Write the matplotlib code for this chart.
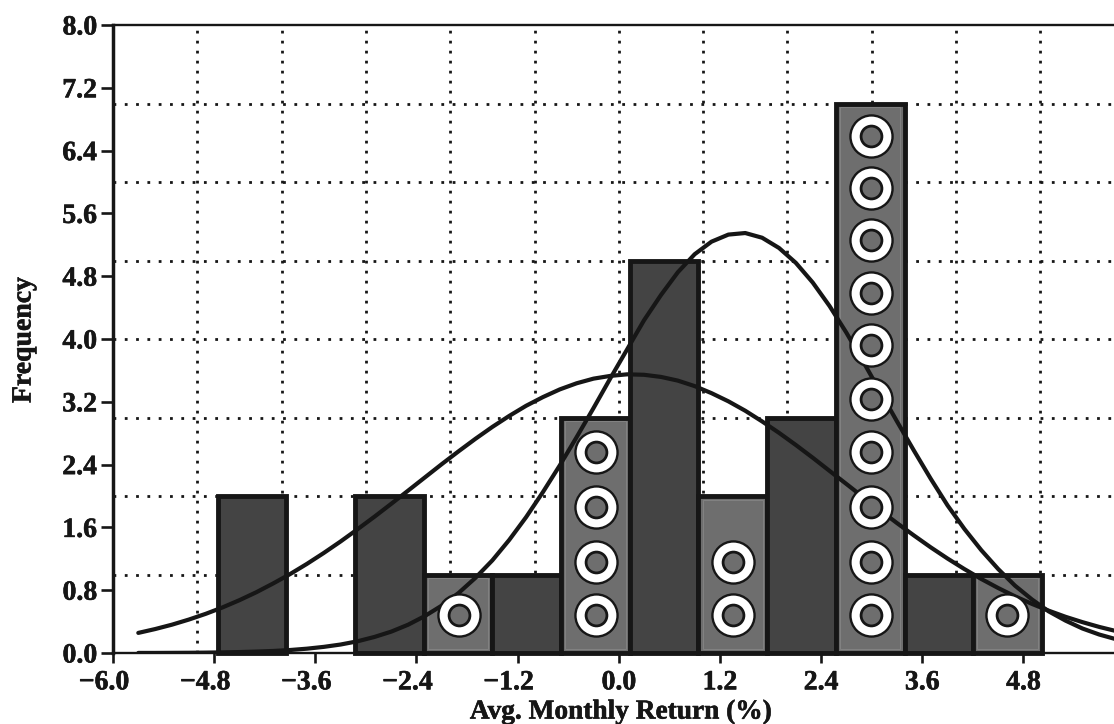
import matplotlib
matplotlib.use("Agg")
import matplotlib.pyplot as plt
import matplotlib.patheffects as pe
from matplotlib.transforms import ScaledTranslation

bin_edges = [-4.76, -3.945, -3.13, -2.315, -1.5, -0.685, 0.13, 0.945, 1.76, 2.575, 3.39, 4.205, 5.02]
counts = [2, 0, 2, 1, 1, 3, 5, 2, 3, 7, 1, 1]
highlighted = [False, False, False, True, False, True, False, True, False, True, False, True]

curve_x = [-5.7, -5.5, -5.3, -5.1, -4.9, -4.7, -4.5, -4.3, -4.1, -3.9, -3.7, -3.5, -3.3, -3.1, -2.9, -2.7,
           -2.5, -2.3, -2.1, -1.9, -1.7, -1.5, -1.3, -1.1, -0.9, -0.7, -0.5, -0.3, -0.1, 0.1,
           0.3, 0.5, 0.7, 0.9, 1.1, 1.3, 1.5, 1.7, 1.9, 2.1, 2.3, 2.5, 2.7, 2.9, 3.1, 3.3,
           3.5, 3.7, 3.9, 4.1, 4.3, 4.5, 4.7, 4.9, 5.1, 5.3, 5.5, 5.7, 5.9]
wide_curve = [0.256, 0.305, 0.361, 0.426, 0.499, 0.581, 0.673, 0.774, 0.886, 1.005, 1.135, 1.274, 1.421, 1.576, 1.735, 1.90,
              2.068, 2.237, 2.406, 2.57, 2.729, 2.88, 3.02, 3.149, 3.26, 3.358, 3.436, 3.495, 3.53, 3.55,
              3.544, 3.517, 3.47, 3.40, 3.31, 3.206, 3.086, 2.95, 2.805, 2.65, 2.488, 2.32, 2.153, 1.984, 1.818, 1.655,
              1.498, 1.346, 1.203, 1.069, 0.943, 0.828, 0.722, 0.626, 0.539, 0.461, 0.393, 0.332, 0.279]
tall_curve = [0.001, 0.001, 0.002, 0.003, 0.005, 0.008, 0.012, 0.018, 0.026, 0.038, 0.055, 0.078, 0.108, 0.149, 0.204, 0.272,
              0.36, 0.471, 0.604, 0.765, 0.958, 1.18, 1.44, 1.73, 2.05, 2.39, 2.75, 3.12, 3.50, 3.87,
              4.24, 4.56, 4.85, 5.08, 5.24, 5.33, 5.35, 5.29, 5.16, 4.97, 4.72, 4.42, 4.08, 3.71, 3.33, 2.95,
              2.58, 2.22, 1.88, 1.58, 1.31, 1.07, 0.858, 0.683, 0.53, 0.412, 0.312, 0.235, 0.175]

marker_x = [-1.9,
            -0.27, -0.27, -0.27, -0.27,
            1.36, 1.36,
            2.99, 2.99, 2.99, 2.99, 2.99, 2.99, 2.99, 2.99, 2.99, 2.99,
            4.61]
marker_y = [0.48,
            0.48, 1.16, 1.86, 2.56,
            0.48, 1.16,
            0.48, 1.16, 1.86, 2.56, 3.24, 3.92, 4.59, 5.26, 5.92, 6.59,
            0.48]

x_ticks = [-6.0, -4.8, -3.6, -2.4, -1.2, 0.0, 1.2, 2.4, 3.6, 4.8]
y_ticks = [0.0, 0.8, 1.6, 2.4, 3.2, 4.0, 4.8, 5.6, 6.4, 7.2, 8.0]
grid_x = [-5, -4, -3, -2, -1, 0, 1, 2, 3, 4, 5]
grid_y = [1, 2, 3, 4, 5, 6, 7]
x_label = "Avg. Monthly Return (%)"
y_label = "Frequency"

DARK = "#444444"
LIGHT = "#6e6e6e"
INK = "#161616"
W, H = 1114, 724

plt.rcParams["font.family"] = "Liberation Serif"
plt.rcParams["font.weight"] = "bold"

fig = plt.figure(figsize=(W / 100, H / 100), dpi=100, facecolor="white")
ax = fig.add_axes([113 / W, 1 - 653 / H, 1 - 113 / W, (653 - 25) / H])
ax.set_xlim(-6.0, (W - 113) / 84.3 - 6.0)
ax.set_ylim(0, 8)

ax.vlines(grid_x, 0, 8, colors=INK, linewidth=2.0, linestyles=[(0, (1, 2.6))], zorder=1)
ax.hlines(grid_y, -6, 6, colors=INK, linewidth=2.0, linestyles=[(0, (1, 3.07))], zorder=1)

for i, c in enumerate(counts):
    if c == 0:
        continue
    left, right = bin_edges[i], bin_edges[i + 1]
    col = LIGHT if highlighted[i] else DARK
    ax.bar(left, c, width=right - left, align="edge", color=col, edgecolor=INK,
           linewidth=3.5, zorder=2, clip_on=False)
    if highlighted[i]:
        ax.bar(left + 0.05, c - 0.1, bottom=0.05, width=right - left - 0.1, align="edge",
               color="none", edgecolor="#858585", linewidth=0.6, zorder=2.1)

ax.plot(curve_x, wide_curve, color=INK, linewidth=3.0, zorder=3, solid_capstyle="round")
ax.plot(curve_x, tall_curve, color=INK, linewidth=3.0, zorder=3, solid_capstyle="round")

ax.scatter(marker_x, marker_y, s=920, facecolor="white", edgecolor=INK, linewidth=1.7, zorder=4)
ax.scatter(marker_x, marker_y, s=225, facecolor=LIGHT, edgecolor=INK, linewidth=2.0, zorder=5)

ax.spines["right"].set_visible(False)
ax.spines["left"].set_linewidth(2.5)
ax.spines["top"].set_linewidth(1.7)
ax.spines["bottom"].set_linewidth(1.7)
for s in ax.spines.values():
    s.set_color(INK)
    s.set_zorder(6)

ax.set_xticks(x_ticks)
ax.set_xticklabels([f"{v:.1f}".replace("-", "\u2212") for v in x_ticks])
ax.set_yticks(y_ticks)
ax.set_yticklabels([f"{v:.1f}" for v in y_ticks])
ax.tick_params(axis="x", length=7.5, width=1.9, color=INK, labelcolor=INK, labelsize=20, pad=5)
ax.tick_params(axis="y", length=8.5, width=1.9, color=INK, labelcolor=INK, labelsize=20, pad=3)

stroke = [pe.withStroke(linewidth=0.4, foreground=INK)]
shift = ScaledTranslation(-9 / 100, 0, fig.dpi_scale_trans)
for v, lab in zip(x_ticks, ax.get_xticklabels()):
    lab.set_path_effects(stroke)
    if v < 0:
        lab.set_transform(lab.get_transform() + shift)
for lab in ax.get_yticklabels():
    lab.set_path_effects(stroke)

fig.text(621 / W, 1 - 712 / H, x_label, ha="center", va="center", fontsize=19.7,
         fontweight="bold", color=INK, path_effects=stroke)
fig.text(24 / W, 1 - 340 / H, y_label, ha="center", va="center", rotation=90, fontsize=20,
         fontweight="bold", color=INK, path_effects=stroke)

fig.savefig("out.png", dpi=100, facecolor="white")
